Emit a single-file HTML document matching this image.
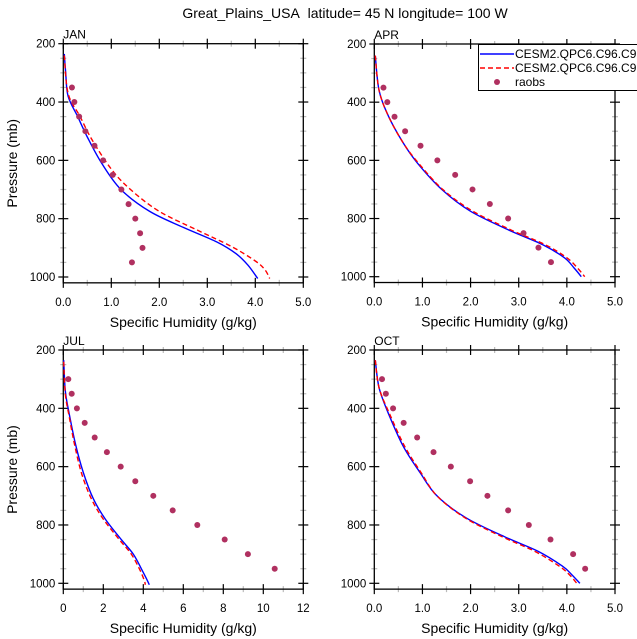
<!DOCTYPE html>
<html><head><meta charset="utf-8">
<style>
html,body{margin:0;padding:0;background:#fff;}
svg{display:block;font-family:"Liberation Sans",Arial,sans-serif;}
</style></head>
<body>
<svg id="chart" width="637" height="639" viewBox="0 0 637 639">
<text x="345" y="18" font-size="14" text-anchor="middle" xml:space="preserve">Great_Plains_USA&#160; latitude= 45 N longitude= 100 W</text>
</svg>
<script>
// Data arrays (q in g/kg, p in mb)
const janBlueQ=[0.02,0.05,0.1,0.3,0.5,0.8,1.2,1.8,2.5,3.2,3.6,3.85,4.05];
const janBlueP=[235,300,380,450,520,610,700,775,830,880,920,960,1005];
const janRedQ=[0.02,0.1,0.35,0.6,1.0,1.4,2.0,2.8,3.5,4.0,4.2,4.3];
const janRedP=[240,370,450,530,630,700,775,840,895,945,975,1005];
const janObsQ=[0.18,0.23,0.33,0.46,0.65,0.83,1.03,1.21,1.36,1.5,1.6,1.65,1.43];
const janObsP=[350,400,450,500,550,600,650,700,750,800,850,900,950];
const aprBlueQ=[0.02,0.1,0.3,0.6,0.9,1.4,2.0,2.8,3.5,3.95,4.15,4.3];
const aprBlueP=[240,360,450,540,610,700,775,840,890,935,970,1000];
const aprRedQ=[0.02,0.1,0.3,0.6,0.92,1.42,2.05,2.85,3.55,4.0,4.22,4.37];
const aprRedP=[240,360,450,540,610,700,775,840,890,935,970,1000];
const aprObsQ=[0.19,0.27,0.42,0.64,0.96,1.31,1.68,2.04,2.4,2.78,3.1,3.41,3.67];
const aprObsP=[350,400,450,500,550,600,650,700,750,800,850,900,950];
const julBlueQ=[0.02,0.1,0.3,0.6,1.0,1.5,2.1,2.9,3.5,3.9,4.2,4.3];
const julBlueP=[235,340,420,520,620,710,780,850,900,950,990,1005];
const julRedQ=[0.02,0.1,0.3,0.55,0.9,1.4,2.0,2.8,3.4,3.8,4.05,4.1];
const julRedP=[240,350,430,520,620,710,780,850,900,950,990,1005];
const julObsQ=[0.25,0.42,0.68,1.07,1.57,2.18,2.87,3.6,4.5,5.47,6.7,8.07,9.23,10.57];
const julObsP=[300,350,400,450,500,550,600,650,700,750,800,850,900,950];
const octBlueQ=[0.02,0.1,0.3,0.6,0.95,1.3,1.9,2.7,3.4,3.9,4.1,4.27];
const octBlueP=[235,330,420,530,620,700,775,840,890,940,970,1000];
const octRedQ=[0.02,0.1,0.32,0.63,0.97,1.3,1.88,2.65,3.33,3.83,4.05,4.23];
const octRedP=[235,330,420,530,620,700,775,840,890,940,970,1005];
const octObsQ=[0.16,0.24,0.39,0.61,0.89,1.23,1.59,1.99,2.35,2.78,3.21,3.66,4.13,4.38];
const octObsP=[300,350,400,450,500,550,600,650,700,750,800,850,900,950];
const xTicks5=["0.0","1.0","2.0","3.0","4.0","5.0"];
const xTicks12=["0","2","4","6","8","10","12"];
const yTicks=[200,400,600,800,1000];

const NS="http://www.w3.org/2000/svg";
const svg=document.getElementById('chart');
function el(tag,attrs,parent){const e=document.createElementNS(NS,tag);for(const k in attrs)e.setAttribute(k,attrs[k]);(parent||svg).appendChild(e);return e;}
function smoothPath(P){
 let d='M'+P[0][0].toFixed(1)+','+P[0][1].toFixed(1);
 for(let i=0;i<P.length-1;i++){
  const p0=P[Math.max(0,i-1)],p1=P[i],p2=P[i+1],p3=P[Math.min(P.length-1,i+2)];
  const c1x=p1[0]+(p2[0]-p0[0])/6,c1y=p1[1]+(p2[1]-p0[1])/6;
  const c2x=p2[0]-(p3[0]-p1[0])/6,c2y=p2[1]-(p3[1]-p1[1])/6;
  d+=` C${c1x.toFixed(1)},${c1y.toFixed(1)} ${c2x.toFixed(1)},${c2y.toFixed(1)} ${p2[0].toFixed(1)},${p2[1].toFixed(1)}`;
 }
 return d;
}

const panels=[
 {name:'jan',label:'JAN',x0:63.3,x1:303.3,yTop:43.7,y1000:277,xmax:5,ticks:xTicks5,blue:[janBlueQ,janBlueP],red:[janRedQ,janRedP],obs:[janObsQ,janObsP],ylab:true},
 {name:'apr',label:'APR',x0:374.3,x1:615,yTop:44,y1000:276.7,xmax:5,ticks:xTicks5,blue:[aprBlueQ,aprBlueP],red:[aprRedQ,aprRedP],obs:[aprObsQ,aprObsP],ylab:false},
 {name:'jul',label:'JUL',x0:63.3,x1:303.3,yTop:350,y1000:583.3,xmax:12,ticks:xTicks12,blue:[julBlueQ,julBlueP],red:[julRedQ,julRedP],obs:[julObsQ,julObsP],ylab:true},
 {name:'oct',label:'OCT',x0:374.3,x1:615,yTop:350,y1000:583.3,xmax:5,ticks:xTicks5,blue:[octBlueQ,octBlueP],red:[octRedQ,octRedP],obs:[octObsQ,octObsP],ylab:false}
];

panels.forEach(P=>{
 const g=el('g',{});
 
 
 const sx=q=>P.x0+(q/P.xmax)*(P.x1-P.x0);
 const sy=p=>P.yTop+(p-200)/800*(P.y1000-P.yTop);
 const yBot=sy(1020);
 const nMaj=P.ticks.length-1;
 for(let i=0;i<=nMaj*2;i++){
  const q=P.xmax*i/(nMaj*2); const x=sx(q); const maj=i%2===0;
  const c=maj?'#000':'#bbb'; const L=maj?5:3;
  const t1=el('line',{x1:x,x2:x,y1:yBot-L,y2:yBot+L,stroke:c,'stroke-width':1.2},g);
  
  
  const t2=el('line',{x1:x,x2:x,y1:P.yTop-L,y2:P.yTop+L,stroke:c,'stroke-width':1.2},g);
  
  
 }
 for(let p=200;p<=1000;p+=50){
  const y=sy(p); const maj=p%200===0; const c=maj?'#000':'#bbb'; const L=maj?5:3;
  const t1=el('line',{x1:P.x0-L,x2:P.x0+L,y1:y,y2:y,stroke:c,'stroke-width':1.2},g);
  
  
  const t2=el('line',{x1:P.x1-L,x2:P.x1+L,y1:y,y2:y,stroke:c,'stroke-width':1.2},g);
  
  
 }
 const box=el('rect',{x:P.x0,y:P.yTop,width:P.x1-P.x0,height:yBot-P.yTop,fill:'none',stroke:'#000','stroke-width':1.3},g);
 
 
 P.ticks.forEach((t,i)=>{
  const tx=el('text',{x:sx(P.xmax*i/nMaj),y:yBot+23,'font-size':11.5,'text-anchor':'middle'},g);
  tx.textContent=t;
  
  
 });
 yTicks.forEach(p=>{
  const tx=el('text',{x:P.x0-8,y:sy(p)+4,'font-size':11.5,'text-anchor':'end'},g);
  tx.textContent=p;
  
  
 });
 const lab=el('text',{x:P.x0,y:P.yTop-5,'font-size':12},g);
 lab.textContent=P.label;
 
 
 const xt=el('text',{x:(P.x0+P.x1)/2,y:yBot+44,'font-size':14,'text-anchor':'middle'},g);
 xt.textContent='Specific Humidity (g/kg)';
 
 
 if(P.ylab){
  const cy=(P.yTop+yBot)/2;
  const yt=el('text',{x:17,y:cy,'font-size':14,'text-anchor':'middle',transform:`rotate(-90 17 ${cy})`},g);
  yt.textContent='Pressure (mb)';
  
  
 }
 const pts=(a)=>a[0].map((q,i)=>[sx(q),sy(a[1][i])]);
 const bl=el('path',{d:smoothPath(pts(P.blue)),fill:'none',stroke:'#0000ff','stroke-width':1.4,'stroke-linejoin':'round'},g);
 
 
 const rl=el('path',{d:smoothPath(pts(P.red)),fill:'none',stroke:'#ff0000','stroke-width':1.4,'stroke-dasharray':'5,3'},g);
 
 
 P.obs[0].forEach((q,i)=>{
  const c=el('circle',{cx:sx(q),cy:sy(P.obs[1][i]),r:3,fill:'#b03060'},g);
  
  
 });
});
const lg=el('g',{});


el('rect',{x:478.5,y:44.5,width:170,height:46,fill:'#fff',stroke:'#000','stroke-width':1},lg);
el('line',{x1:480,x2:514,y1:54,y2:54,stroke:'#0000ff','stroke-width':1.4},lg);
el('line',{x1:480,x2:514,y1:68,y2:68,stroke:'#ff0000','stroke-width':1.4,'stroke-dasharray':'5,3'},lg);
el('circle',{cx:497,cy:82,r:3,fill:'#b03060'},lg);
[['CESM2.QPC6.C96.C96',58],['CESM2.QPC6.C96.C96',72],['raobs',86]].forEach(([t,y])=>{
 const tx=el('text',{x:515,y:y,'font-size':12},lg);
 tx.textContent=t;
 
 
});
</script>
</body></html>
